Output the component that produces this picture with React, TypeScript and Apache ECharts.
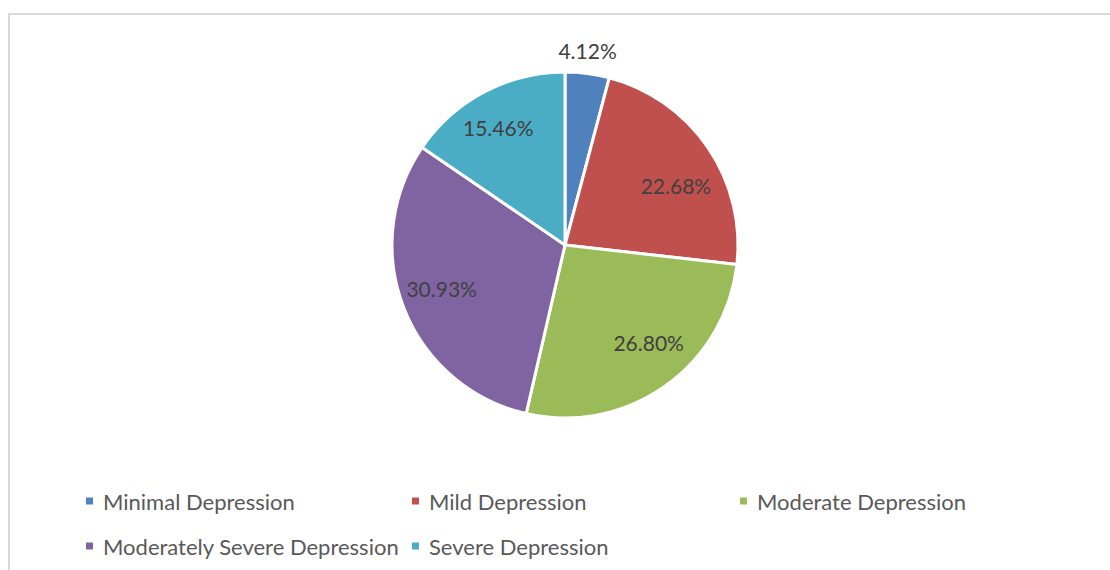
import React, { useEffect, useRef } from "react";
import * as echarts from "echarts";

const categories = [
  "Minimal Depression",
  "Mild Depression",
  "Moderate Depression",
  "Moderately Severe Depression",
  "Severe Depression",
];
const values = [4.12, 22.68, 26.8, 30.93, 15.46];
const colors = ["#4F81BD", "#C0504D", "#9BBB59", "#8064A2", "#4BACC6"];
// label nudges from ECharts' "inside" anchor, to mimic the reference's placement
const labelShift = [
  [11, -106],
  [37, -9],
  [32, 24],
  [-40, 11],
  [-25, -38],
];
const legendSpots = [
  [76, 0],
  [402, 0],
  [730, 0],
  [76, 1],
  [402, 1],
];

export default function App() {
  const ref = useRef<HTMLDivElement>(null);
  useEffect(() => {
    if (!ref.current) return;
    const chart = echarts.init(ref.current, null, { renderer: "svg" });
    const font = "Lato, 'Open Sans', sans-serif";
    chart.setOption({
      animation: false,
      color: colors,
      legend: categories.map((c, i) => ({
        data: [c],
        left: legendSpots[i][0],
        top: 473 + legendSpots[i][1] * 45,
        icon: "rect",
        itemWidth: 7,
        itemHeight: 7,
        padding: 0,
        selectedMode: false,
        itemStyle: { borderWidth: 0 },
        textStyle: {
          fontFamily: font,
          fontSize: 22,
          color: "#595959",
          lineHeight: 26,
          padding: [0, 0, 0, 5],
        },
      })),
      series: [
        {
          type: "pie",
          center: [555, 230],
          radius: [0, 173],
          startAngle: 90,
          clockwise: true,
          itemStyle: { borderColor: "#ffffff", borderWidth: 3 },
          label: {
            show: true,
            position: "inside",
            formatter: (p: any) => p.value.toFixed(2) + "%",
            fontFamily: font,
            fontSize: 21,
            color: "#404040",
          },
          labelLine: { show: false },
          emphasis: { disabled: true },
          labelLayout: (p: any) => ({
            dx: labelShift[p.dataIndex][0],
            dy: labelShift[p.dataIndex][1],
          }),
          data: categories.map((c, i) => ({ name: c, value: values[i] })),
        },
      ],
    });
    return () => chart.dispose();
  }, []);
  return (
    <div
      style={{
        position: "fixed",
        left: 8,
        top: 13,
        width: 1102,
        height: 557,
        boxSizing: "border-box",
        borderLeft: "2px solid #d9d9d9",
        borderTop: "2px solid #d9d9d9",
        background: "#fff",
      }}
    >
      <div ref={ref} style={{ width: 1100, height: 555 }} />
    </div>
  );
}
